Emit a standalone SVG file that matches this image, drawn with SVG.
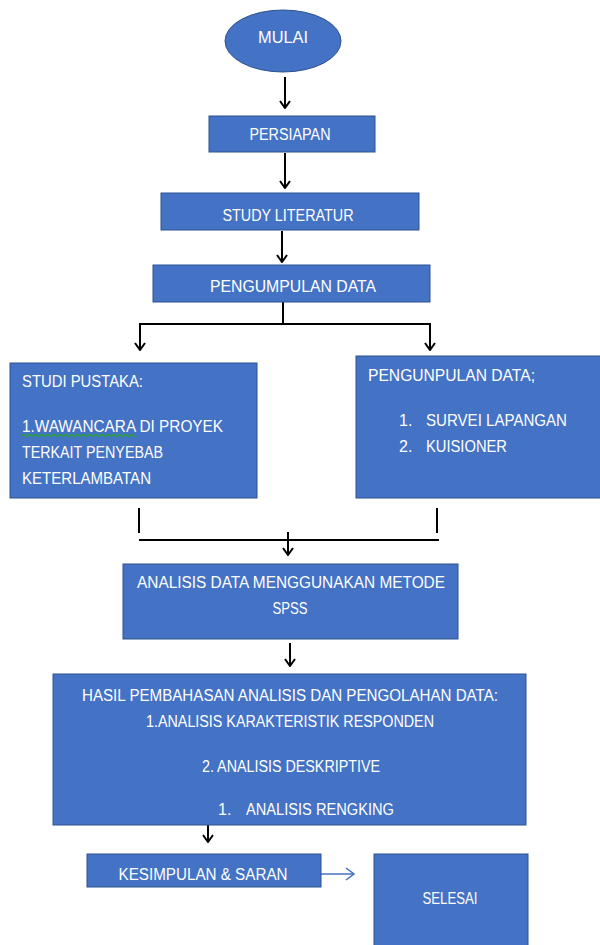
<svg xmlns="http://www.w3.org/2000/svg" width="600" height="945" viewBox="0 0 600 945">
<style>
.box{fill:#4472C4;stroke:#2F528F;stroke-width:1}
.t{fill:#ffffff;font-family:"Liberation Sans",Arial,sans-serif;font-size:16px}
.c{stroke:#000;stroke-width:2;fill:none}
.b{stroke:#4472C4;stroke-width:1.5;fill:none}
</style>
<defs>
<marker id="ah" viewBox="0 0 12 12" refX="11" refY="6" markerWidth="12" markerHeight="12" markerUnits="userSpaceOnUse" orient="auto">
<path d="M4,1 L11,6 L4,11" fill="none" stroke="#000" stroke-width="2"/>
</marker>
<marker id="ahb" viewBox="0 0 12 14" refX="11" refY="7" markerWidth="12" markerHeight="14" markerUnits="userSpaceOnUse" orient="auto">
<path d="M3,1 L11,7 L3,13" fill="none" stroke="#4472C4" stroke-width="1.5"/>
</marker>
</defs>
<rect width="600" height="945" fill="#ffffff"/>
<g id="connectors">
<line class="c" x1="285" y1="77" x2="285" y2="108" marker-end="url(#ah)"/>
<line class="c" x1="285" y1="153" x2="285" y2="188" marker-end="url(#ah)"/>
<line class="c" x1="282" y1="231" x2="282" y2="262" marker-end="url(#ah)"/>
<polyline class="c" points="283,302 283,324"/>
<line class="c" x1="139" y1="324" x2="431" y2="324"/>
<line class="c" x1="140" y1="324" x2="140" y2="350" marker-end="url(#ah)"/>
<line class="c" x1="430" y1="324" x2="430" y2="350" marker-end="url(#ah)"/>
<line class="c" x1="139" y1="508" x2="139" y2="533"/>
<line class="c" x1="437" y1="508" x2="437" y2="533"/>
<line class="c" x1="139" y1="540" x2="439" y2="540"/>
<line class="c" x1="288" y1="532" x2="288" y2="555" marker-end="url(#ah)"/>
<line class="c" x1="290" y1="643" x2="290" y2="666" marker-end="url(#ah)"/>
<line class="c" x1="208" y1="825" x2="208" y2="842" marker-end="url(#ah)"/>
<line class="b" x1="321" y1="874" x2="354" y2="874" marker-end="url(#ahb)"/>
</g>
<g id="mulai">
<ellipse class="box" cx="283" cy="41" rx="58" ry="31"/>
<text class="t" x="283" y="43" text-anchor="middle" textLength="50" lengthAdjust="spacingAndGlyphs">MULAI</text>
</g>
<g id="persiapan">
<rect class="box" x="209" y="116" width="166" height="36"/>
<text class="t" x="290" y="140" text-anchor="middle" textLength="81" lengthAdjust="spacingAndGlyphs">PERSIAPAN</text>
</g>
<g id="study">
<rect class="box" x="161" y="193" width="258" height="37"/>
<text class="t" x="288" y="221" text-anchor="middle" textLength="131" lengthAdjust="spacingAndGlyphs">STUDY LITERATUR</text>
</g>
<g id="pengumpulan">
<rect class="box" x="153" y="265" width="277" height="37"/>
<text class="t" x="293" y="292" text-anchor="middle" textLength="166" lengthAdjust="spacingAndGlyphs">PENGUMPULAN DATA</text>
</g>
<g id="studi-pustaka">
<rect class="box" x="10" y="363" width="247" height="135"/>
<text class="t" x="22" y="387" textLength="121" lengthAdjust="spacingAndGlyphs">STUDI PUSTAKA:</text>
<text class="t" x="22" y="432" textLength="201" lengthAdjust="spacingAndGlyphs">1.WAWANCARA DI PROYEK</text>
<path d="M22,435.5 q1.5,-2 3,0 t3,0 t3,0 t3,0 t3,0 t3,0 t3,0 t3,0 t3,0 t3,0 t3,0 t3,0 t3,0 t3,0 t3,0 t3,0 t3,0 t3,0 t3,0 t3,0 t3,0 t3,0 t3,0 t3,0 t3,0 t3,0 t3,0 t3,0 t3,0 t3,0 t3,0 t3,0 t3,0 t3,0 t3,0 t3,0 t3,0 t3,0" fill="none" stroke="#2EA043" stroke-width="1.4"/>
<text class="t" x="22" y="458" textLength="141" lengthAdjust="spacingAndGlyphs">TERKAIT  PENYEBAB</text>
<text class="t" x="22" y="484" textLength="129" lengthAdjust="spacingAndGlyphs">KETERLAMBATAN</text>
</g>
<g id="pengunpulan-data">
<rect class="box" x="356" y="356" width="250" height="142"/>
<text class="t" x="368" y="381" textLength="167" lengthAdjust="spacingAndGlyphs">PENGUNPULAN DATA;</text>
<text class="t" x="399" y="426">1.</text>
<text class="t" x="426" y="426" textLength="141" lengthAdjust="spacingAndGlyphs">SURVEI LAPANGAN</text>
<text class="t" x="399" y="452">2.</text>
<text class="t" x="426" y="452" textLength="81" lengthAdjust="spacingAndGlyphs">KUISIONER</text>
</g>
<g id="analisis">
<rect class="box" x="123" y="564" width="335" height="75"/>
<text class="t" x="291" y="588" text-anchor="middle" textLength="308" lengthAdjust="spacingAndGlyphs">ANALISIS DATA MENGGUNAKAN METODE</text>
<text class="t" x="290" y="614" text-anchor="middle" textLength="35" lengthAdjust="spacingAndGlyphs">SPSS</text>
</g>
<g id="hasil">
<rect class="box" x="53" y="674" width="473" height="151"/>
<text class="t" x="290" y="701" text-anchor="middle" textLength="416" lengthAdjust="spacingAndGlyphs">HASIL PEMBAHASAN ANALISIS DAN PENGOLAHAN DATA:</text>
<text class="t" x="290" y="727" text-anchor="middle" textLength="288" lengthAdjust="spacingAndGlyphs">1.ANALISIS KARAKTERISTIK RESPONDEN</text>
<text class="t" x="291" y="772" text-anchor="middle" textLength="178" lengthAdjust="spacingAndGlyphs">2. ANALISIS DESKRIPTIVE</text>
<text class="t" x="218" y="815">1.</text>
<text class="t" x="246" y="815" textLength="148" lengthAdjust="spacingAndGlyphs">ANALISIS RENGKING</text>
</g>
<g id="kesimpulan">
<rect class="box" x="87" y="854" width="234" height="33"/>
<text class="t" x="203" y="880" text-anchor="middle" textLength="169" lengthAdjust="spacingAndGlyphs">KESIMPULAN &amp; SARAN</text>
</g>
<g id="selesai">
<rect class="box" x="374" y="854" width="154" height="95"/>
<text class="t" x="450" y="904" text-anchor="middle" textLength="55" lengthAdjust="spacingAndGlyphs">SELESAI</text>
</g>
</svg>
